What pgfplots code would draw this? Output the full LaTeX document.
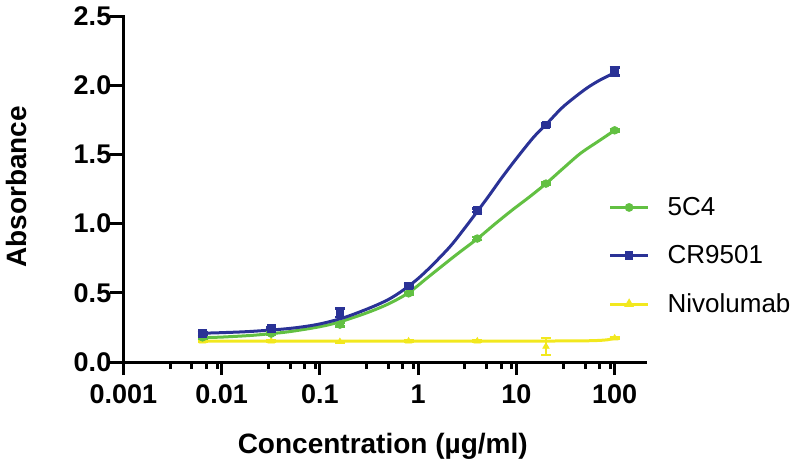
\documentclass[border=0pt]{standalone}
\usepackage{pgfplots}
\pgfplotsset{compat=1.18}
\usepackage{pgfplotstable}
\usepackage{fontspec}
\setmainfont{Liberation Sans}
\definecolor{cgreen}{RGB}{98,192,66}
\definecolor{cblue}{RGB}{42,50,150}
\definecolor{cyellow}{RGB}{242,232,30}

% measured points (x, mean, error)
\pgfplotstableread{
x y e
0.0064 0.178 0.008
0.032 0.205 0.008
0.16 0.270 0.012
0.8 0.496 0.010
4 0.892 0.010
20 1.289 0.010
100 1.674 0.010
}\greendata
\pgfplotstableread{
x y e
0.0064 0.205 0.008
0.032 0.241 0.010
0.16 0.356 0.030
0.8 0.550 0.012
4 1.095 0.012
20 1.712 0.012
100 2.100 0.028
}\bluedata
\pgfplotstableread{
x y e
0.0064 0.150 0.005
0.032 0.150 0.005
0.16 0.146 0.005
0.8 0.150 0.005
4 0.150 0.005
20 0.112 0.060
100 0.172 0.005
}\yellowdata

% fitted curves
\pgfplotstableread{
x y
0.0064 0.176
0.01 0.180
0.02 0.192
0.032 0.205
0.05 0.220
0.1 0.255
0.16 0.290
0.3 0.355
0.5 0.420
0.8 0.500
1.2 0.600
1.7 0.686
2.5 0.780
4 0.890
6 0.995
9 1.096
14 1.200
20 1.289
30 1.400
45 1.508
70 1.600
100 1.674
}\greencurve
\pgfplotstableread{
x y
0.0064 0.208
0.01 0.212
0.02 0.221
0.05 0.243
0.1 0.275
0.2 0.334
0.5 0.452
1 0.603
2 0.815
3 0.970
5 1.180
7 1.325
10 1.470
15 1.625
20 1.715
30 1.845
50 1.970
70 2.035
100 2.090
}\bluecurve
\pgfplotstableread{
x y
0.0064 0.151
0.1 0.151
1 0.151
10 0.151
30 0.152
50 0.153
70 0.156
85 0.161
100 0.172
}\yellowcurve

\begin{document}
\begin{tikzpicture}
\begin{axis}[
  at={(61.65pt,55.5pt)}, anchor=south west,
  scale only axis, width=261pt, height=173pt,
  xmode=log, log basis x=10,
  xmin=0.001, xmax=205, ymin=0, ymax=2.5,
  axis lines*=left,
  axis line style={line width=1.5pt, line cap=rect},
  tick align=outside,
  major tick length=6.5pt, minor tick length=3.5pt,
  every tick/.style={black, line width=1.5pt},
  xtick={0.001,0.01,0.1,1,10,100},
  xticklabels={0.001,0.01,0.1,1,10,100},
  minor xtick={0.003,0.005,0.007,0.009,0.03,0.05,0.07,0.09,0.3,0.5,0.7,0.9,3,5,7,9,30,50,70,90},
  ytick={0,0.5,1,1.5,2,2.5},
  ticklabel style={font=\bfseries\fontsize{13.5}{15}\selectfont},
  xticklabel style={yshift=-1.5pt},
  yticklabel style={xshift=4pt, /pgf/number format/.cd, fixed, fixed zerofill, precision=1, assume math mode=true},
  xlabel={Concentration (µg/ml)},
  ylabel={Absorbance},
  label style={font=\bfseries\fontsize{14}{16}\selectfont},
  xlabel style={at={(axis description cs:0.497,-0.243)}, anchor=center},
  ylabel style={at={(axis description cs:-0.204,0.506)}, anchor=center},
  clip=false,
  legend style={draw=none, fill=none, at={(axis description cs:0.929,0.49)}, anchor=north west,
    font=\fontsize{13}{15}\selectfont, row sep=9.5pt, column sep=7pt, inner sep=0pt},
  legend cell align=left,
  legend image code/.code={\draw[mark repeat=2, mark phase=2, #1] plot coordinates {(0pt,0pt) (9.5pt,0pt) (19pt,0pt)};},
]
% curves
\addplot[cyellow, line width=1.5pt, smooth, forget plot] table[x=x,y=y] {\yellowcurve};
\addplot[cgreen, line width=1.5pt, smooth, forget plot] table[x=x,y=y] {\greencurve};
\addplot[cblue, line width=1.5pt, smooth, forget plot] table[x=x,y=y] {\bluecurve};
% points with error bars
\addplot[cyellow, only marks, mark=triangle*, mark size=1.8pt, forget plot,
  error bars/.cd, y dir=both, y explicit, error bar style={line width=1.3pt}, error mark options={line width=1.3pt, mark size=2.5pt, rotate=90}]
  table[x=x,y=y,y error=e] {\yellowdata};
\addplot[cgreen, only marks, mark=*, mark size=1.9pt, forget plot,
  error bars/.cd, y dir=both, y explicit, error bar style={line width=1.3pt}, error mark options={line width=1.3pt, mark size=2.5pt, rotate=90}]
  table[x=x,y=y,y error=e] {\greendata};
\addplot[cblue, only marks, mark=square*, mark size=1.9pt, forget plot,
  error bars/.cd, y dir=both, y explicit, error bar style={line width=1.3pt}, error mark options={line width=1.3pt, mark size=2.5pt, rotate=90}]
  table[x=x,y=y,y error=e] {\bluedata};
% legend
\addlegendimage{cgreen, line width=1.5pt, mark=*, mark size=1.4pt}
\addlegendentry{5C4}
\addlegendimage{cblue, line width=1.5pt, mark=square*, mark size=1.4pt}
\addlegendentry{CR9501}
\addlegendimage{cyellow, line width=1.5pt, mark=triangle*, mark size=1.4pt}
\addlegendentry{Nivolumab}
\end{axis}
\pgfresetboundingbox
\useasboundingbox (0,0) rectangle (400pt,236.5pt);
\end{tikzpicture}
\end{document}
